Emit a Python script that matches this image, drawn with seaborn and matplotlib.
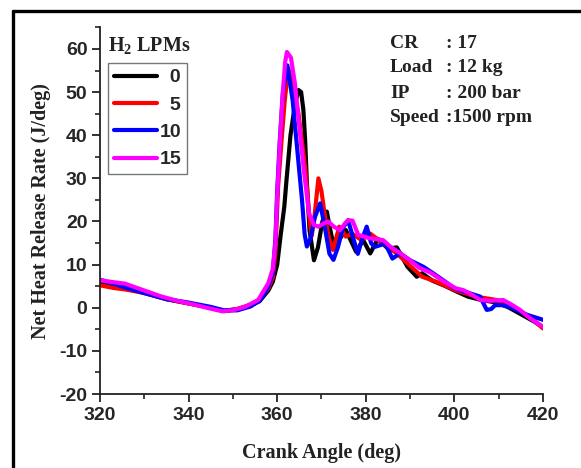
import numpy as np
import pandas as pd
import seaborn as sns
import matplotlib
matplotlib.use("Agg")
import matplotlib.pyplot as plt
from matplotlib.lines import Line2D

# ---------------- data ----------------
series_names = ["0", "5", "10", "15"]
series_colors = ["#000000", "#ff0000", "#0000ff", "#ff00ff"]

x_0 = [320, 323, 326, 330, 335, 340, 345, 348, 351, 354, 356, 358, 359, 360, 360.8, 361.6, 362.1,
       363, 364, 364.8, 365.4, 365.9, 366.3, 366.7, 367.3, 368.3, 369.2, 370.2, 371.2, 372, 372.8,
       373.8, 375.5, 377.8, 379.4, 381, 382.7, 385, 387, 389.4, 391.5, 392.7, 395, 398, 400, 403,
       406, 409, 412, 415, 418, 420]
y_0 = [5.5, 5.0, 4.6, 3.5, 2.0, 1.0, 0.0, -0.7, -0.3, 0.6, 1.5, 4.0, 6.0, 10, 17, 23.4, 29.6,
       40, 47, 50.5, 50, 46, 39, 29, 18, 11, 14, 20, 22.3, 18, 14, 15.5, 18, 13, 15.7, 12.6,
       16, 13.7, 14, 9.5, 7.2, 8, 6.3, 5, 4.0, 2.6, 1.8, 1.3, 0.2, -1.5, -3.2, -4.5]

x_5 = [320, 323, 326, 330, 335, 340, 345, 348, 351, 354, 356, 358, 359, 359.6, 360.2, 361, 361.7,
       362.5, 363.5, 364.8, 366.3, 367.4, 367.8, 368.5, 369.3, 370, 370.8, 371.7, 372.6, 374,
       375.5, 376.9, 379, 381, 384.4, 387, 389.4, 392.7, 396, 400.3, 405.3, 409.5, 412.8, 417, 420]
y_5 = [5.2, 4.6, 4.2, 3.4, 2.0, 1.0, 0.0, -0.8, -0.3, 0.7, 1.8, 4.5, 7.0, 13, 28, 39, 48,
       55.5, 52, 45, 32.7, 19.6, 16.7, 22, 30, 27, 21, 16, 13.4, 18.8, 16.5, 17.2, 15.7, 17.2,
       14.5, 12.6, 10.3, 7.2, 6, 4, 2.5, 1.8, 0.6, -2.1, -4.8]

x_10 = [320, 323, 326, 330, 335, 340, 345, 348, 351, 354, 356, 357, 358, 359, 359.6, 360, 360.6,
        361.3, 362.3, 363.5, 364.5, 365.6, 366.2, 366.7, 367.5, 368.5, 369.7, 370.7, 371.8, 372.7,
        373.7, 374.8, 376, 377.2, 378.2, 379.2, 380.2, 381.2, 382, 384.4, 386, 387.7, 390, 393,
        395.2, 398, 400, 403, 405.8, 407.3, 408.3, 409.2, 411, 413, 416, 420]
y_10 = [6.5, 5.6, 4.6, 3.4, 2.0, 1.2, 0.2, -0.6, -0.6, 0.3, 1.6, 3.0, 5.0, 8.0, 16, 27, 39,
        50, 56.2, 48, 37, 25, 17, 14.2, 16, 21, 24.2, 19, 12.5, 11.1, 14, 18.5, 20.3, 16, 12.5,
        16, 18.8, 15, 14.1, 14.9, 11.4, 12.6, 11, 9.5, 8, 6, 4.5, 3.5, 2.6, -0.5, -0.3, 0.6,
        0.6, 0, -1.5, -2.8]

x_15 = [320, 322.5, 325.6, 330, 333.9, 337.5, 341.4, 344.5, 347.5, 350, 352.7, 355.7, 358, 359,
        359.6, 360, 360.6, 361.2, 361.8, 362.2, 363.1, 364, 365, 366, 367.2, 368.3, 369.3, 370.4,
        371.5, 372.8, 374.2, 375.2, 376, 377, 378.3, 380.9, 383.9, 385.5, 387.7, 390, 392,
        394.5, 397.8, 400.3, 402, 404, 405.8, 408, 411, 412.8, 414.8, 417, 420]
y_15 = [6.4, 6.0, 5.6, 4.0, 2.6, 1.6, 0.7, -0.1, -0.8, -0.6, 0.2, 1.8, 5.7, 9.0,
        15, 26, 38, 49, 57, 59.3, 58, 52, 42, 32, 21.8, 19.2, 18.8, 19.5,
        20, 18.8, 18, 19.4, 20.3, 20.2, 16.9, 16.1, 15.7, 14.2, 12.7, 11, 9.3,
        8.2, 6, 4.5, 4.1, 3.0, 1.8, 1.6, 1.8, 0.8, -0.5, -2.4, -4.4]

x_ticks = [320, 340, 360, 380, 400, 420]
y_ticks = [-20, -10, 0, 10, 20, 30, 40, 50, 60]

info_keys = ["CR", "Load", "IP", "Speed"]
info_vals = [": 17", ": 12 kg", ": 200 bar", ":1500 rpm"]

# ---------------- build table ----------------
frames = []
for name, xs, ys in zip(series_names, [x_0, x_5, x_10, x_15], [y_0, y_5, y_10, y_15]):
    frames.append(pd.DataFrame({"angle": xs, "hrr": ys, "H2": name}))
df = pd.concat(frames, ignore_index=True)

# ---------------- figure ----------------
sns.set_theme(style="ticks")
plt.rcParams["font.family"] = ["Liberation Sans", "DejaVu Sans"]
plt.rcParams["mathtext.fontset"] = "custom"
plt.rcParams["mathtext.rm"] = "Liberation Serif:bold"
plt.rcParams["mathtext.bf"] = "Liberation Serif:bold"

fig = plt.figure(figsize=(5.81, 4.68), dpi=100)
fig.patch.set_facecolor("white")
ax = fig.add_axes([0.1721, 0.1581, 0.7625, 0.7833])

sns.lineplot(data=df, x="angle", y="hrr", hue="H2", hue_order=series_names,
             palette=series_colors, estimator=None, sort=False, linewidth=3.0,
             legend=False, ax=ax)

ax.set_xlim(320, 420)
ax.set_ylim(-20, 65)
ax.set_xticks(x_ticks)
ax.set_yticks(y_ticks)
ax.set_xticks(np.arange(330, 420, 20), minor=True)
ax.set_yticks(np.arange(-15, 70, 10), minor=True)
ax.set_xticklabels([str(v) for v in x_ticks], fontsize=14, fontweight="bold")
ax.set_yticklabels([str(v) for v in y_ticks], fontsize=14, fontweight="bold")
ax.tick_params(axis="both", which="major", direction="out", length=6, width=1.3,
               color="#222222", pad=3)
ax.tick_params(axis="both", which="minor", direction="out", length=3.5, width=1.2,
               color="#222222")
for s in ["top", "right"]:
    ax.spines[s].set_visible(False)
for s in ["left", "bottom"]:
    ax.spines[s].set_linewidth(1.3)
    ax.spines[s].set_color("#222222")

ax.set_xlabel("Crank Angle (deg)", fontsize=14.5, fontweight="bold",
              family=["Liberation Serif"], color="#222222", labelpad=14)
ax.set_ylabel("Net Heat Release Rate (J/deg)", fontsize=14.5, fontweight="bold",
              family=["Liberation Serif"], color="#222222", labelpad=6)

# legend
handles = [Line2D([0], [0], color=c, lw=3.0) for c in series_colors]
labels = ["\u2007" + n if len(n) == 1 else n for n in series_names]
leg = ax.legend(handles, labels, loc="upper left", bbox_to_anchor=(0.018, 0.903),
                borderaxespad=0, frameon=True, fancybox=False, handlelength=2.2,
                handletextpad=0.15, labelspacing=0.5, borderpad=0.3,
                prop={"family": "Liberation Sans", "weight": "bold", "size": 14})
leg.get_frame().set_edgecolor("#555555")
leg.get_frame().set_linewidth(1.0)

ax.text(0.018, 0.948, r"H$_{2}$ LPMs", transform=ax.transAxes, ha="left", va="center",
        fontsize=14.5, fontweight="bold", family=["Liberation Serif"], color="#222222")

# info block
key_x, val_x = 390 / 581, 446 / 581
for i, (k, v) in enumerate(zip(info_keys, info_vals)):
    yy = 1 - (43 + i * 25) / 468
    fig.text(key_x, yy, k, ha="left", va="center", fontsize=14, fontweight="bold",
             family=["Liberation Serif"], color="#222222")
    fig.text(val_x, yy, v, ha="left", va="center", fontsize=14, fontweight="bold",
             family=["Liberation Serif"], color="#222222")

# outer black frame (top and left edges visible)
fig.add_artist(Line2D([12.5 / 581, 1.0], [1 - 11 / 468, 1 - 11 / 468], color="black",
                      lw=2.4, transform=fig.transFigure))
fig.add_artist(Line2D([12.5 / 581, 12.5 / 581], [0.0, 1 - 11 / 468], color="black",
                      lw=2.4, transform=fig.transFigure))

fig.savefig("out.png", dpi=100)
